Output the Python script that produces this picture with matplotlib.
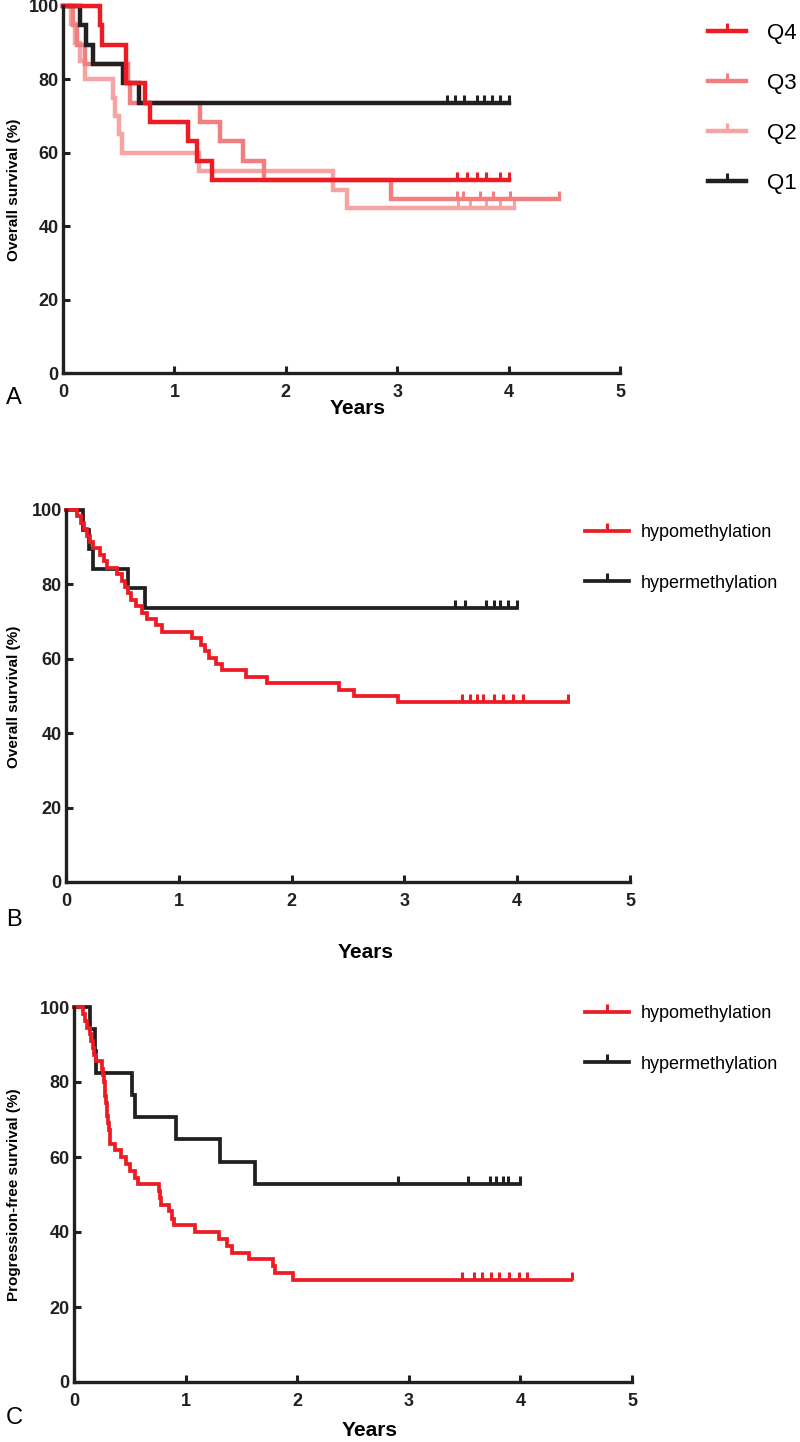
"""
plot.py: three Kaplan-Meier panels (A, B, C) for methylation groups.
"""
import matplotlib
matplotlib.use('Agg')
from matplotlib import pyplot as plt
from matplotlib.lines import Line2D

plt.rcParams['font.family'] = ['Liberation Sans', 'DejaVu Sans']

# ---- panel A: quartiles, overall survival ----
q4_t = [0, 0.33, 0.35, 0.57, 0.74, 0.78, 1.12, 1.2, 1.34, 4.0]
q4_s = [100, 94.7, 89.5, 78.9, 73.7, 68.4, 63.2, 57.9, 52.6, 52.6]
q4_cens = [3.54, 3.63, 3.72, 3.80, 3.92, 4.0]

q3_t = [0, 0.09, 0.13, 0.2, 0.58, 0.6, 1.23, 1.41, 1.62, 1.8, 2.94, 4.45]
q3_s = [100, 94.7, 89.5, 84.2, 78.9, 73.7, 68.4, 63.2, 57.9, 52.6, 47.4, 47.4]
q3_cens = [3.54, 3.59, 3.74, 3.86, 4.01, 4.45]

q2_t = [0, 0.07, 0.11, 0.15, 0.2, 0.45, 0.47, 0.5, 0.53, 1.22, 2.42, 2.55, 4.05]
q2_s = [100, 95, 90, 85, 80, 75, 70, 65, 60, 55, 50, 45, 45]
q2_cens = [3.55, 3.65, 3.8, 3.92, 4.05]

q1_t = [0, 0.15, 0.21, 0.27, 0.54, 0.68, 4.0]
q1_s = [100, 94.7, 89.5, 84.2, 78.9, 73.7, 73.7]
q1_cens = [3.45, 3.52, 3.6, 3.72, 3.78, 3.85, 3.92, 4.0]

# ---- panel B: overall survival by methylation ----
b_hypo_t = [0, 0.1, 0.13, 0.16, 0.19, 0.21, 0.24, 0.3, 0.34, 0.36, 0.45, 0.5,
            0.52, 0.55, 0.58, 0.62, 0.67, 0.72, 0.8, 0.85, 1.12, 1.2, 1.23,
            1.27, 1.33, 1.38, 1.6, 1.78, 2.42, 2.55, 2.94, 4.45]
b_hypo_s = [100, 98.3, 96.6, 94.8, 93.1, 91.4, 89.7, 87.9, 86.2, 84.5, 82.8, 81.0,
            79.3, 77.6, 75.9, 74.1, 72.4, 70.7, 69.0, 67.2, 65.5, 63.8, 62.1,
            60.3, 58.6, 56.9, 55.2, 53.4, 51.7, 50.0, 48.3, 48.3]
b_hypo_cens = [3.51, 3.58, 3.64, 3.7, 3.79, 3.87, 3.96, 4.05, 4.45]

b_hyper_t = [0, 0.15, 0.2, 0.24, 0.55, 0.7, 4.0]
b_hyper_s = [100, 94.7, 89.5, 84.2, 78.9, 73.7, 73.7]
b_hyper_cens = [3.45, 3.54, 3.72, 3.79, 3.85, 3.92, 4.0]

# ---- panel C: progression-free survival by methylation ----
c_hypo_t = [0, 0.08, 0.1, 0.12, 0.14, 0.15, 0.17, 0.18, 0.2, 0.25, 0.26, 0.27,
            0.275, 0.28, 0.29, 0.295, 0.3, 0.305, 0.31, 0.32, 0.37, 0.42, 0.47,
            0.5, 0.55, 0.57, 0.76, 0.77, 0.78, 0.85, 0.88, 0.9, 1.08, 1.3, 1.37,
            1.42, 1.57, 1.78, 1.8, 1.96, 4.45]
c_hypo_s = [100, 98.2, 96.4, 94.5, 92.7, 90.9, 89.1, 87.3, 85.5, 83.6, 81.8, 80.0,
            78.2, 76.4, 74.5, 72.7, 70.9, 69.1, 67.3, 63.6, 61.8, 60.0, 58.2,
            56.4, 54.5, 52.7, 50.9, 49.1, 47.3, 45.5, 43.6, 41.8, 40.0, 38.2, 36.4,
            34.5, 32.7, 30.9, 29.1, 27.3, 27.3]
c_hypo_cens = [3.48, 3.58, 3.66, 3.74, 3.81, 3.9, 3.99, 4.06, 4.46]

c_hyper_t = [0, 0.14, 0.19, 0.2, 0.52, 0.55, 0.91, 1.31, 1.62, 4.0]
c_hyper_s = [100, 94.1, 88.2, 82.4, 76.5, 70.6, 64.7, 58.8, 52.9, 52.9]
c_hyper_cens = [2.9, 3.53, 3.73, 3.78, 3.84, 3.89, 4.0]

x_ticks = [0, 1, 2, 3, 4, 5]
y_ticks = [0, 20, 40, 60, 80, 100]

RED = '#ed1c24'
Q3_COL = '#f27f80'
Q2_COL = '#f6a3a4'
BLACK = '#231f20'

W, H = 800, 1442


def fx(x):
    return x / W


def fy(y):
    return 1 - y / H


def add_axes(fig, left, top, right, bottom):
    ax = fig.add_axes([fx(left), fy(bottom), (right - left) / W, (bottom - top) / H])
    ax.set_xlim(0, 5)
    ax.set_ylim(0, 100)
    ax.set_xticks(x_ticks)
    ax.set_yticks(y_ticks)
    for side in ['top', 'right']:
        ax.spines[side].set_visible(False)
    for side in ['left', 'bottom']:
        ax.spines[side].set_linewidth(2.4)
        ax.spines[side].set_color(BLACK)
    ax.tick_params(direction='in', length=5, width=2.2, colors=BLACK, labelsize=13)
    ax.tick_params(axis='x', pad=8)
    ax.tick_params(axis='y', pad=3)
    for lab in ax.get_xticklabels() + ax.get_yticklabels():
        lab.set_fontweight('bold')
    return ax


def draw_curve(ax, times, surv, cens, color, lw):
    ax.step(times, surv, where='post', color=color, lw=lw, clip_on=False,
            solid_joinstyle='miter')
    ax.plot(cens, [surv[-1]] * len(cens), ls='none', marker=2, ms=6, mew=2.2,
            color=color, clip_on=False)


def legend_handle(color, lw):
    return Line2D([0], [0], color=color, lw=lw, marker=2, ms=6, mew=2.2)


fig = plt.figure(figsize=(8, 14.42), dpi=100)

# panel A
axA = add_axes(fig, 63, 6, 620, 373)
draw_curve(axA, q2_t, q2_s, q2_cens, Q2_COL, 3.2)
draw_curve(axA, q3_t, q3_s, q3_cens, Q3_COL, 3.2)
draw_curve(axA, q1_t, q1_s, q1_cens, BLACK, 3.2)
draw_curve(axA, q4_t, q4_s, q4_cens, RED, 3.2)
fig.legend([legend_handle(c, 3.2) for c in [RED, Q3_COL, Q2_COL, BLACK]],
           ['Q4', 'Q3', 'Q2', 'Q1'], loc='upper left', bbox_to_anchor=(fx(688), fy(3)),
           frameon=False, fontsize=16, handlelength=1.7, handletextpad=0.95,
           labelspacing=1.3, numpoints=1)
fig.text(fx(14), fy(190), 'Overall survival (%)', rotation=90, ha='center', va='center',
         fontsize=11, fontweight='bold')
fig.text(fx(358), fy(409), 'Years', ha='center', va='center', fontsize=15, fontweight='bold')
fig.text(fx(14), fy(398), 'A', ha='center', va='center', fontsize=17)

# panel B
axB = add_axes(fig, 66, 510, 630, 882)
draw_curve(axB, b_hyper_t, b_hyper_s, b_hyper_cens, BLACK, 2.7)
draw_curve(axB, b_hypo_t, b_hypo_s, b_hypo_cens, RED, 2.7)
fig.legend([legend_handle(c, 2.7) for c in [RED, BLACK]],
           ['hypomethylation', 'hypermethylation'], loc='upper left',
           bbox_to_anchor=(fx(569), fy(508)), frameon=False, fontsize=13,
           handlelength=2.4, handletextpad=0.7, labelspacing=1.85, numpoints=1)
fig.text(fx(14), fy(697), 'Overall survival (%)', rotation=90, ha='center', va='center',
         fontsize=11, fontweight='bold')
fig.text(fx(366), fy(953), 'Years', ha='center', va='center', fontsize=15, fontweight='bold')
fig.text(fx(14), fy(920), 'B', ha='center', va='center', fontsize=17)

# panel C
axC = add_axes(fig, 74, 1007, 632, 1382)
draw_curve(axC, c_hyper_t, c_hyper_s, c_hyper_cens, BLACK, 2.7)
draw_curve(axC, c_hypo_t, c_hypo_s, c_hypo_cens, RED, 2.7)
fig.legend([legend_handle(c, 2.7) for c in [RED, BLACK]],
           ['hypomethylation', 'hypermethylation'], loc='upper left',
           bbox_to_anchor=(fx(569), fy(989)), frameon=False, fontsize=13,
           handlelength=2.4, handletextpad=0.7, labelspacing=1.85, numpoints=1)
fig.text(fx(14), fy(1195), 'Progression-free survival (%)', rotation=90, ha='center',
         va='center', fontsize=11, fontweight='bold')
fig.text(fx(370), fy(1431), 'Years', ha='center', va='center', fontsize=15, fontweight='bold')
fig.text(fx(14), fy(1418), 'C', ha='center', va='center', fontsize=17)

fig.savefig('out.png', dpi=100)
